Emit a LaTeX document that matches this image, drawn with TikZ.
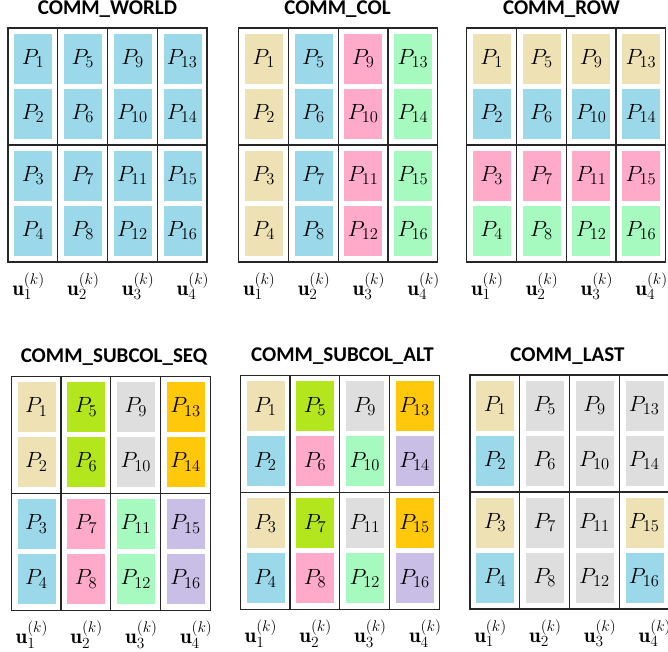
\RequirePackage{fix-cm}
\documentclass[tikz,border=0pt]{standalone}
\usepackage{fontspec}
\newfontfamily\titlefont{Carlito}
\DeclareMathSizes{22}{22}{16.5}{12}
\DeclareMathSizes{21}{21}{15.5}{12}
\definecolor{cblue}{RGB}{155,216,233}
\definecolor{ctan}{RGB}{238,226,180}
\definecolor{cpink}{RGB}{255,170,200}
\definecolor{cgreen}{RGB}{166,250,192}
\definecolor{clime}{RGB}{180,230,30}
\definecolor{cgray}{RGB}{222,222,222}
\definecolor{cgold}{RGB}{255,200,10}
\definecolor{clav}{RGB}{200,190,230}
\tikzset{
  cell/.style={minimum width=39pt, minimum height=51pt, inner sep=0pt, draw=white, line width=0.5pt, font=\fontsize{22}{26}\selectfont},
  frame/.style={draw=black!85, line width=1.3pt},
  titlestyle/.style={font=\titlefont\bfseries\fontsize{21}{25}\selectfont, inner sep=0pt},
  ulabel/.style={font=\fontsize{21}{25}\selectfont, inner sep=0pt}
}
\newcommand\gridpanel[6]{%
  \node[titlestyle] (#1-title) at (#6, #3-19.3) {#4};
  \foreach \clr [count=\n from 1] in {#5} {
    \pgfmathtruncatemacro\cc{int((\n-1)/4)}
    \pgfmathtruncatemacro\rr{mod(\n-1,4)}
    \pgfmathsetmacro\cx{#2+25+49.75*\cc}
    \pgfmathsetmacro\cy{#3+30.5+55*\rr+(\rr>1)*7}
    \node[cell, fill=\clr] (#1-\n) at (\cx,\cy) {$P_{\n}$};
  }
  \draw[frame] (#2,#3) rectangle ++(199,234);
  \foreach \k in {1,2,3} \draw[frame] (#2+49.75*\k,#3) -- ++(0,234);
  \draw[frame] (#2,#3+117) -- ++(199,0);
  \foreach \k in {1,...,4} \node[ulabel] (#1-u\k) at (#2+20.5+54.8*\k-54.8, #3+258) {$\mathbf{u}_{\k}^{(k)}$};
}
\begin{document}
\begin{tikzpicture}[x=1pt, y=-1pt]
\useasboundingbox (0,0) rectangle (668,651);
\gridpanel{W}{8}{28}{COMM\_WORLD}{cblue,cblue,cblue,cblue,cblue,cblue,cblue,cblue,cblue,cblue,cblue,cblue,cblue,cblue,cblue,cblue}{107.5}
\gridpanel{C}{238.7}{28}{COMM\_COL}{ctan,ctan,ctan,ctan,cblue,cblue,cblue,cblue,cpink,cpink,cpink,cpink,cgreen,cgreen,cgreen,cgreen}{337.5}
\gridpanel{R}{466.7}{28}{COMM\_ROW}{ctan,cblue,cpink,cgreen,ctan,cblue,cpink,cgreen,ctan,cblue,cpink,cgreen,ctan,cblue,cpink,cgreen}{561.5}
\gridpanel{S}{11.3}{376.5}{COMM\_SUBCOL\_SEQ}{ctan,ctan,cblue,cblue,clime,clime,cpink,cpink,cgray,cgray,cgreen,cgreen,cgold,cgold,clav,clav}{114}
\gridpanel{A}{240.3}{375.7}{COMM\_SUBCOL\_ALT}{ctan,cblue,ctan,cblue,clime,cpink,clime,cpink,cgray,cgreen,cgray,cgreen,cgold,clav,cgold,clav}{342.5}
\gridpanel{L}{470}{375}{COMM\_LAST}{ctan,cblue,ctan,cblue,cgray,cgray,cgray,cgray,cgray,cgray,cgray,cgray,cgray,cgray,ctan,cblue}{567.5}
\end{tikzpicture}
\end{document}
